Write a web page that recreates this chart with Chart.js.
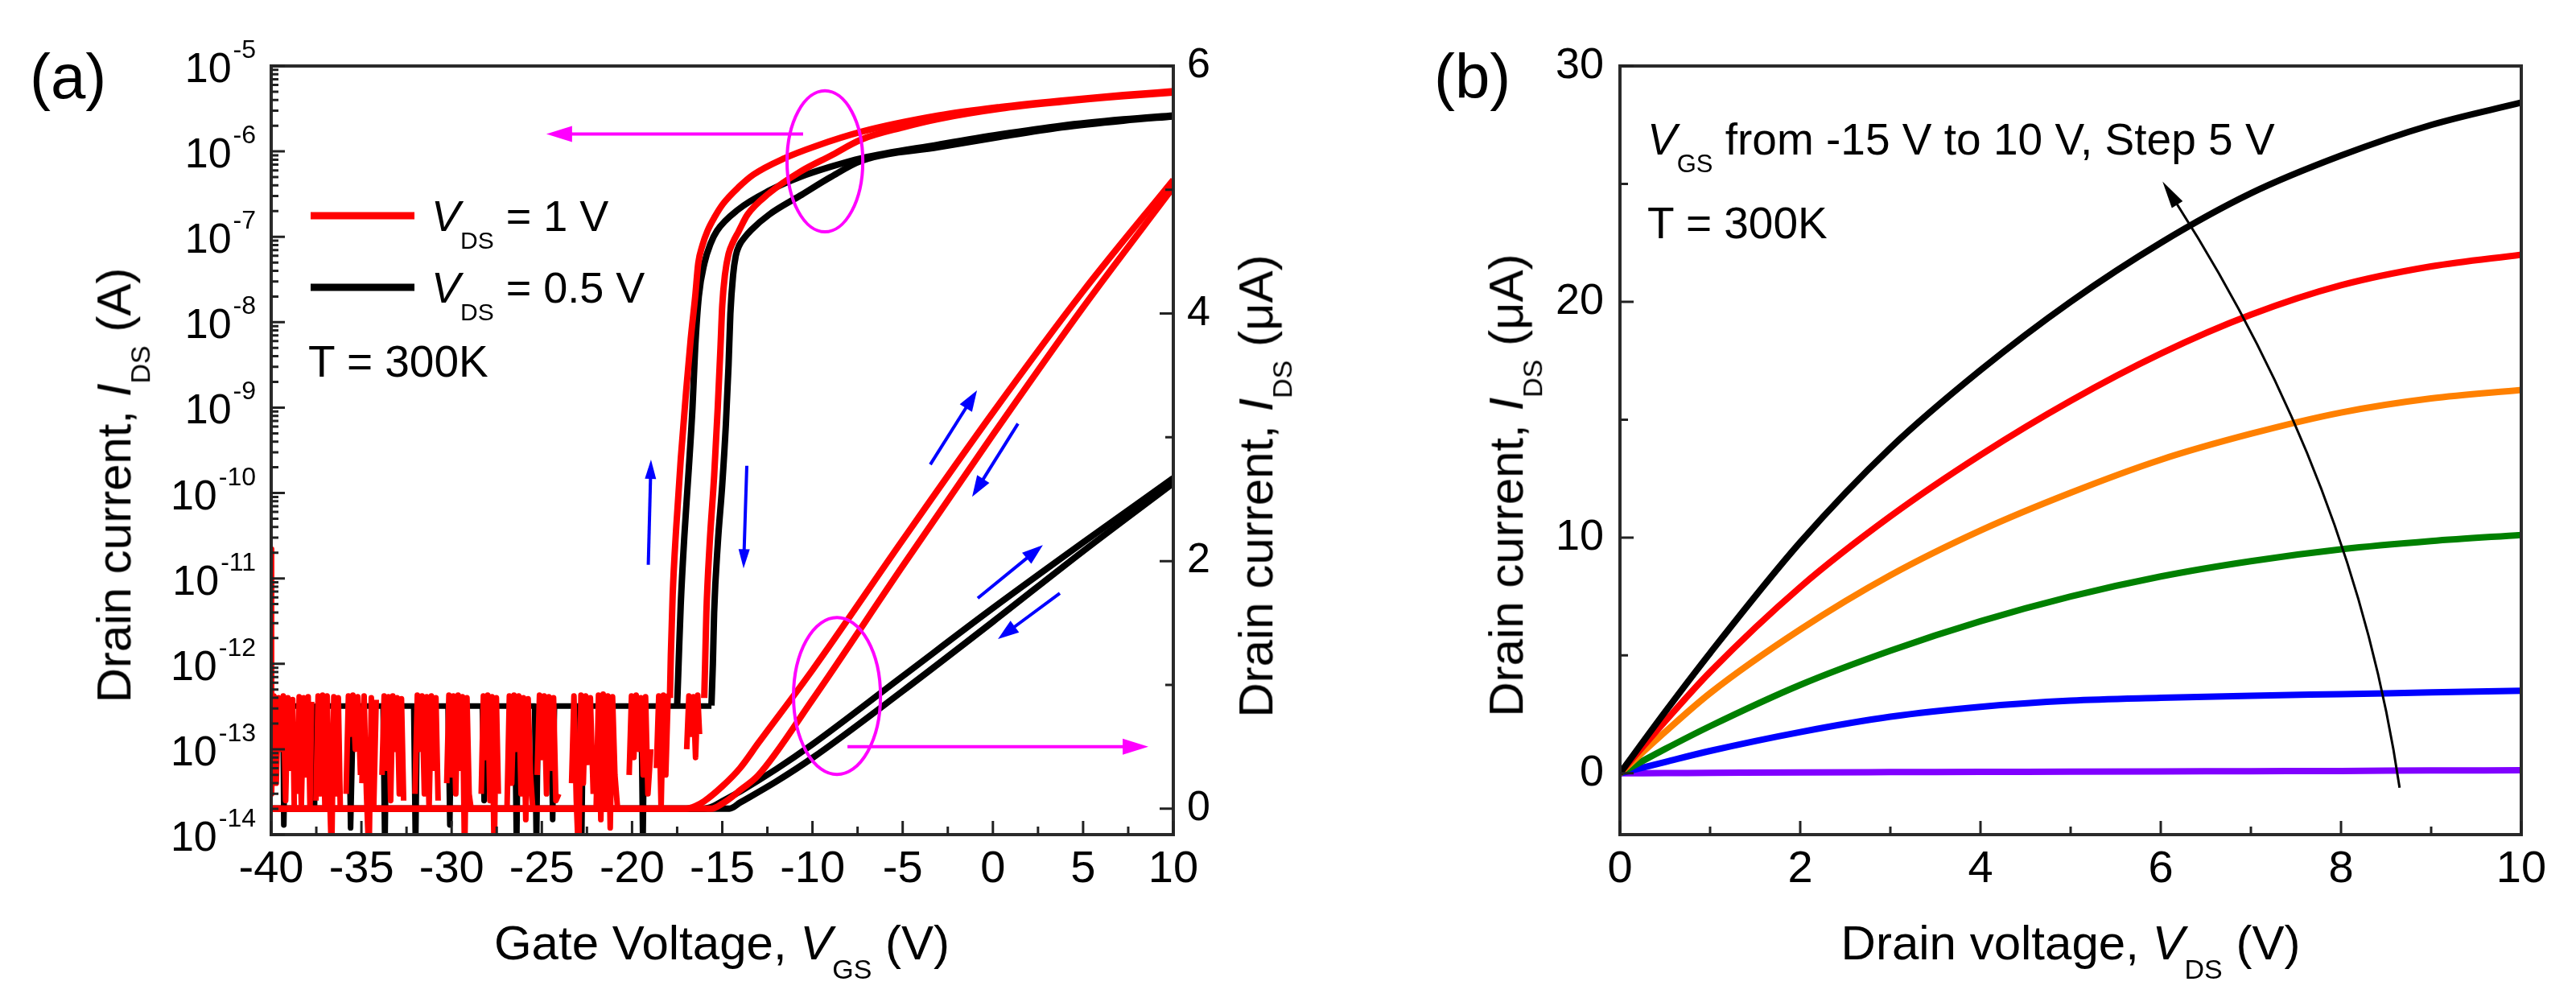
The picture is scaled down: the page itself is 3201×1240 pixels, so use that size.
<!DOCTYPE html>
<html><head><meta charset="utf-8">
<script src="https://cdn.jsdelivr.net/npm/chart.js@4.4.1/dist/chart.umd.min.js"></script>
<style>
html,body{margin:0;padding:0;background:#fff;}
body{width:3201px;height:1240px;position:relative;overflow:hidden;font-family:"Liberation Sans",Arial,sans-serif;color:#000;}
.cw{position:absolute;top:0;}
.t{position:absolute;white-space:nowrap;line-height:1;}
</style></head><body>
<div class="cw" style="left:0;width:1600px;height:1240px"><canvas id="ca" width="1600" height="1240"></canvas></div>
<div class="cw" style="left:1600px;width:1601px;height:1240px"><canvas id="cb" width="1601" height="1240"></canvas></div>
<script>
// ---------- Panel (a) data ----------
// noise floor (log axis), gate voltage in V, current in A (null = gap)
const vgsRedNoise = [
 -40.0,-39.98,-39.85,-39.72,-39.59,-39.46,-39.33,-39.2,-39.07,-38.94,-38.81,-38.72,-38.64,
 -38.56,-38.45,-38.33,-38.2,-38.08,-37.95,-37.85,-37.76,-37.64,
 -37.52,-37.4,-37.28,-37.15,-37.02,-36.9,-36.78,-36.65,-36.53,-36.4,-36.28,-36.17,-36.0,
 -35.85,-35.72,-35.6,-35.47,-35.34,-35.2,-35.05,-35.01,
 -34.97,-34.85,-34.72,-34.58,-34.45,-34.32,-34.18,-34.0,
 -33.86,-33.74,-33.62,-33.5,-33.38,-33.26,-33.14,-33.02,-32.9,-32.78,-32.66,-32.3,
 -32.03,-31.9,-31.77,-31.64,-31.51,-31.38,-31.25,-31.12,-30.99,-30.87,-30.75,-30.5,
 -30.27,-30.15,-30.02,-29.9,-29.77,-29.64,-29.52,-29.4,-29.28,-29.15,-29.03,-28.92,-28.6,
 -28.36,-28.24,-28.12,-28.0,-27.88,-27.76,-27.64,-27.52,-27.41,-27.2,
 -26.93,-26.8,-26.67,-26.54,-26.41,-26.28,-26.15,-26.02,-25.89,-25.76,-25.63,-25.5,-25.4,
 -25.26,-25.13,-25.0,-24.87,-24.74,-24.61,-24.48,-24.35,-24.22,-24.06,-23.7,
 -23.35,-23.22,-23.09,-22.96,-22.83,-22.7,-22.57,-22.44,-22.31,-22.15,-22.07,
 -21.99,-21.86,-21.73,-21.6,-21.47,-21.34,-21.21,-21.08,-20.95,-20.8,-20.5,
 -20.16,-20.03,-19.9,-19.77,-19.64,-19.51,-19.38,-19.25,-19.12,-18.96,-18.8,
 -18.65,-18.52,-18.39,-18.26,-18.13,-18.0,-17.9,-17.2,
 -16.97,-16.85,-16.72,-16.6,-16.48,-16.36,-16.26
];
const idsRedNoise = [
 2.2e-11,3e-14,4.2e-13,4e-14,4e-13,1e-13,4.2e-13,2.5e-14,4e-13,6e-14,3.8e-13,2e-14,null,
 3e-14,4.1e-13,2.2e-14,4e-13,5e-14,4.1e-13,2e-14,3.6e-13,null,
 2.5e-14,4.2e-13,3e-14,4.3e-13,2e-14,4.2e-13,4e-14,5e-15,4.1e-13,3e-14,4e-13,2e-14,null,
 3e-14,4.2e-13,1.5e-13,4.3e-13,1e-13,4.1e-13,5e-14,null,
 4e-14,4.2e-13,3e-14,5e-15,4e-13,2e-14,3.8e-13,null,
 5e-14,4.2e-13,6e-14,4.1e-13,2.5e-14,4.2e-13,1e-13,4e-13,3e-14,3.9e-13,2.5e-14,null,
 3e-14,4.3e-13,1e-13,4.2e-13,3e-14,4.1e-13,2e-14,4.2e-13,6e-14,4e-13,2.5e-14,null,
 4e-14,4.3e-13,5e-14,4.2e-13,3e-14,4.3e-13,6e-14,4.1e-13,5e-15,4e-13,3e-14,2e-14,null,
 3e-14,4.2e-13,8e-14,4.3e-13,2.5e-14,4.1e-13,5e-15,4e-13,3e-14,null,
 2e-14,4.2e-13,4e-14,4.3e-13,1e-13,4.2e-13,3e-14,4e-13,1.5e-14,3.9e-13,5e-14,2e-14,null,
 5e-14,4.3e-13,8e-14,4.2e-13,3e-14,4.1e-13,6e-14,4e-13,2.5e-14,3e-14,null,
 4e-14,4.2e-13,2.5e-14,5e-15,4.3e-13,4e-14,4.2e-13,7e-14,4e-13,3e-14,null,
 2e-14,4.3e-13,1.5e-14,4.4e-13,2e-14,4.2e-13,1.2e-14,4.1e-13,5e-14,2e-14,null,
 5e-14,4.2e-13,8e-14,4.3e-13,1e-13,4e-13,5e-14,4.1e-13,3e-14,1e-13,null,
 6e-14,4.2e-13,2e-14,4.3e-13,5e-14,4.2e-13,3.98e-13,null,
 1e-13,4.2e-13,1.5e-13,4.1e-13,8e-14,4.3e-13,1.5e-13
];
const vgsBlackNoise = [-40,-39.35,-39.3,-39.2,-37.7,-37.6,-37.5,-35.7,-35.6,-35.45,-33.8,-33.7,-33.6,-32.1,-32.0,-31.9,
 -30.2,-30.1,-30.0,-28.3,-28.2,-28.1,-26.5,-26.4,-26.3,-25.4,-25.3,-25.2,-24.5,-24.4,-24.3,-22.9,-22.8,-22.7,
 -19.5,-19.4,-19.3,-15.6];
const idsBlackNoise = [3.2e-13,3.2e-13,1.3e-14,3.2e-13,3.2e-13,2e-14,3.2e-13,3.2e-13,1.2e-14,3.2e-13,3.2e-13,5e-15,3.2e-13,3.2e-13,5e-15,3.2e-13,
 3.2e-13,1.3e-14,3.2e-13,3.2e-13,2.5e-14,3.2e-13,3.2e-13,5e-15,3.2e-13,3.2e-13,5e-15,3.2e-13,3.2e-13,1.5e-14,3.2e-13,3.2e-13,5e-15,3.2e-13,
 3.2e-13,5e-15,3.2e-13,3.2e-13];
// turn-on branches (log axis)
const vgsRedLeftLog = [-17.9,-17.85,-17.75,-17.55,-17.3,-17.0,-16.75,-16.5,-16.33,-16.1,-15.82,-15.4,-14.96,-14.1,-13.26,-11.55,-9.84,-7.28,-3.01,0.4,3.81,7.23,10];
const idsRedLeftLog = [3.98e-13,1.26e-12,6.31e-12,3.98e-11,2.51e-10,1.58e-9,6.31e-9,2.0e-8,4.9e-8,7.94e-8,1.17e-7,1.74e-7,2.43e-7,3.8e-7,5.37e-7,8.32e-7,1.15e-6,1.7e-6,2.63e-6,3.31e-6,3.94e-6,4.57e-6,5.07e-6];
const vgsRedRightLog = [-16.0,-15.95,-15.88,-15.7,-15.45,-15.25,-15.1,-15.0,-14.85,-14.65,-14.4,-14.1,-13.6,-12.4,-10.7,-8.99,-7.28,-5.0,-3.01,0.4,3.81,7.23,10];
const idsRedRightLog = [3.98e-13,1e-12,3.98e-12,2.51e-11,1.58e-10,1e-9,5.01e-9,1.58e-8,3.6e-8,6.3e-8,8.7e-8,1.15e-7,1.82e-7,3.24e-7,5.75e-7,8.91e-7,1.38e-6,1.91e-6,2.4e-6,3.16e-6,3.8e-6,4.42e-6,4.9e-6];
const vgsBlackLeftLog = [-17.5,-17.42,-17.3,-17.1,-16.85,-16.65,-16.5,-16.3,-15.99,-15.65,-15.3,-14.11,-12.4,-10.7,-8.99,-7.28,-3.01,0.4,3.81,7.23,10];
const idsBlackLeftLog = [3.24e-13,1e-12,5.01e-12,3.16e-11,2.0e-10,1e-9,5.01e-9,2.0e-8,4.9e-8,8.3e-8,1.17e-7,2.09e-7,3.47e-7,5.01e-7,6.61e-7,8.32e-7,1.2e-6,1.58e-6,2.0e-6,2.37e-6,2.64e-6];
const vgsBlackRightLog = [-15.6,-15.52,-15.45,-15.25,-15.0,-14.8,-14.65,-14.55,-14.4,-14.25,-14.05,-13.8,-13.4,-12.4,-10.7,-8.99,-7.28,-3.01,0.4,3.81,7.23,10];
const idsBlackRightLog = [3.24e-13,1e-12,3.98e-12,2.51e-11,1.26e-10,6.31e-10,3.16e-9,1.26e-8,3.55e-8,6.0e-8,8.0e-8,9.6e-8,1.2e-7,1.82e-7,3.02e-7,5.01e-7,7.76e-7,1.12e-6,1.48e-6,1.91e-6,2.29e-6,2.57e-6];
// linear branches (right axis, uA)
const vgsRedLeftLin = [-40,-17,-16.5,-16,-15,-14,-13,-10,-5,0,5,10];
const idsRedLeftLin = [0,0,0.02,0.06,0.18,0.33,0.53,1.12,2.17,3.2,4.18,5.08];
const vgsRedRightLin = [-40,-15.6,-15,-14.5,-14,-13,-10,-5,0,5,10];
const idsRedRightLin = [0,0,0.04,0.09,0.15,0.27,0.88,1.96,3.02,4.05,5.02];
const vgsBlackLeftLin = [-40,-16,-15.5,-15,-14,-12,-10,-5,0,5,10];
const idsBlackLeftLin = [0,0,0.02,0.06,0.14,0.32,0.52,1.07,1.62,2.15,2.67];
const vgsBlackRightLin = [-40,-14.6,-14,-12,-10,-5,0,5,10];
const idsBlackRightLin = [0,0,0.05,0.22,0.41,0.95,1.51,2.08,2.63];
const logTickExponents = [-14,-13,-12,-11,-10,-9,-8,-7,-6,-5];
// annotations in data units (x: VGS, y: right-axis uA)
const blueArrowsA = [[-19.1,1.97,-18.95,2.82],[-13.64,2.77,-13.82,1.94],[-3.47,2.78,-0.88,3.38],[1.39,3.11,-1.15,2.52],[-0.84,1.70,2.77,2.13],[3.71,1.74,0.28,1.37]];
const magentaArrowsA = [[-10.52,5.45,-24.75,5.45],[-8.06,0.50,8.62,0.50]];
const magentaEllipsesA = [[-9.31,5.23,2.1,0.57],[-8.64,0.91,2.41,0.634]];

// ---------- Panel (b) data ----------
const vds = [0,0.5,1,2,3,4,5,6,7,8,9,10];
const idVgsM15 = [0,0.01,0.02,0.04,0.05,0.06,0.07,0.08,0.09,0.10,0.12,0.13];
const idVgsM10 = [0,0.48,0.95,1.75,2.4,2.82,3.08,3.2,3.29,3.36,3.43,3.5];
const idVgsM5  = [0,1.03,2.0,3.75,5.2,6.45,7.5,8.35,9.0,9.5,9.85,10.11];
const idVgs0   = [0,1.75,3.4,6.1,8.4,10.3,11.9,13.3,14.4,15.3,15.9,16.26];
const idVgs5   = [0,2.2,4.3,7.9,10.9,13.5,15.8,17.8,19.45,20.7,21.5,22.0];
const idVgs10  = [0,2.6,5.1,9.8,13.8,17.1,20.0,22.5,24.6,26.2,27.5,28.45];
const arrowB = [[8.65,-0.61],[8.15,12.35],[6.02,25.1]];

// ---------- helpers ----------
const FONT='"Liberation Sans", Arial, Helvetica, sans-serif';
const pts=(xs,ys)=>xs.map((x,i)=>({x:x,y:ys[i]}));
function line(xs,ys,color,axis,order,w,smooth){
  return {data:pts(xs,ys),borderColor:color,backgroundColor:color,borderWidth:w,yAxisID:axis,order:order,
    pointRadius:0,pointHoverRadius:0,tension:0,cubicInterpolationMode:smooth?'monotone':'default',spanGaps:false,clip:0,fill:false,
    borderJoinStyle:'round'};
}
function tickMarks(ctx,scale,vals,len,side){
  const a=scale.chart.chartArea;
  ctx.save();ctx.strokeStyle='#222';ctx.lineWidth=3;ctx.beginPath();
  vals.forEach(v=>{const p=scale.getPixelForValue(v);
    if(side==='bottom'){ctx.moveTo(p,a.bottom);ctx.lineTo(p,a.bottom-len);}
    else if(side==='left'){ctx.moveTo(a.left,p);ctx.lineTo(a.left+len,p);}
    else {ctx.moveTo(a.right,p);ctx.lineTo(a.right-len,p);}});
  ctx.stroke();ctx.restore();
}
function majorsMinors(scale){
  const maj=scale.ticks.map(t=>t.value);const min=[];
  for(let i=0;i<maj.length-1;i++)min.push((maj[i]+maj[i+1])/2);
  return [maj,min];
}
function frame(chart){
  const a=chart.chartArea,ctx=chart.ctx;
  ctx.save();ctx.strokeStyle='#2a2a2a';ctx.lineWidth=4;ctx.strokeRect(a.left,a.top,a.right-a.left,a.bottom-a.top);ctx.restore();
}
function arrow(ctx,x1,y1,x2,y2,color,lw,hl,hw){
  const ang=Math.atan2(y2-y1,x2-x1),c=Math.cos(ang),s=Math.sin(ang);
  const bx=x2-hl*c,by=y2-hl*s;
  ctx.save();ctx.strokeStyle=color;ctx.fillStyle=color;ctx.lineWidth=lw;ctx.lineCap='butt';
  ctx.beginPath();ctx.moveTo(x1,y1);ctx.lineTo(bx+2*c,by+2*s);ctx.stroke();
  ctx.beginPath();ctx.moveTo(x2,y2);ctx.lineTo(bx+hw*s,by-hw*c);ctx.lineTo(bx-hw*s,by+hw*c);ctx.closePath();ctx.fill();
  ctx.restore();
}
const noGrid={display:false,drawTicks:false};
const noBorder={display:false};

// ---------- Chart (a) ----------
const pluginA={id:'decorA',
  afterDatasetsDraw(chart){
    const ctx=chart.ctx,sx=chart.scales.x,sy=chart.scales.y,s2=chart.scales.y2;
    magentaEllipsesA.forEach(e=>{
      const cx=sx.getPixelForValue(e[0]),cy=s2.getPixelForValue(e[1]);
      const rx=Math.abs(sx.getPixelForValue(e[0]+e[2])-cx),ry=Math.abs(s2.getPixelForValue(e[1]+e[3])-cy);
      ctx.save();ctx.strokeStyle='#ff00ff';ctx.lineWidth=4;ctx.beginPath();ctx.ellipse(cx,cy,rx,ry,0,0,Math.PI*2);ctx.stroke();ctx.restore();
    });
    magentaArrowsA.forEach(m=>arrow(ctx,sx.getPixelForValue(m[0]),s2.getPixelForValue(m[1]),sx.getPixelForValue(m[2]),s2.getPixelForValue(m[3]),'#ff00ff',4,32,10));
    blueArrowsA.forEach((b,i)=>arrow(ctx,sx.getPixelForValue(b[0]),s2.getPixelForValue(b[1]),sx.getPixelForValue(b[2]),s2.getPixelForValue(b[3]),'#0000ff',4,i<2?24:26,i<2?7:9));
    ctx.save();ctx.lineWidth=9;ctx.lineCap='butt';
    ctx.strokeStyle='#ff0000';ctx.beginPath();ctx.moveTo(386,268);ctx.lineTo(515,268);ctx.stroke();
    ctx.strokeStyle='#000000';ctx.beginPath();ctx.moveTo(386,357);ctx.lineTo(515,357);ctx.stroke();
    ctx.restore();
    frame(chart);
    let [mj,mn]=majorsMinors(sx);tickMarks(ctx,sx,mj,17,'bottom');tickMarks(ctx,sx,mn,10,'bottom');
    [mj,mn]=majorsMinors(s2);tickMarks(ctx,s2,mj,17,'right');tickMarks(ctx,s2,mn,10,'right');
    const lmaj=[],lmin=[];
    logTickExponents.forEach(n=>{lmaj.push(Math.pow(10,n));if(n<-5)for(let k=2;k<10;k++)lmin.push(k*Math.pow(10,n));});
    tickMarks(ctx,sy,lmaj,17,'left');tickMarks(ctx,sy,lmin,9,'left');
    ctx.save();ctx.fillStyle='#000';ctx.textBaseline='alphabetic';
    logTickExponents.forEach(n=>{
      const y=sy.getPixelForValue(Math.pow(10,n));
      ctx.font='32px '+FONT;const sup=String(n);const ws=ctx.measureText(sup).width;
      ctx.textAlign='left';ctx.fillText(sup,318-ws,y-10);
      ctx.font='52px '+FONT;ctx.textAlign='right';ctx.fillText('10',318-ws-2,y+20);
    });
    ctx.restore();
  }};
new Chart(document.getElementById('ca'),{
  type:'line',
  data:{datasets:[
    line(vgsRedLeftLin,idsRedLeftLin,'#ff0000','y2',1,8,true),
    line(vgsRedRightLin,idsRedRightLin,'#ff0000','y2',1,8,true),
    line(vgsRedLeftLog,idsRedLeftLog,'#ff0000','y',2,8,true),
    line(vgsRedRightLog,idsRedRightLog,'#ff0000','y',2,8,true),
    line(vgsRedNoise,idsRedNoise,'#ff0000','y',3,7,false),
    line(vgsBlackLeftLin,idsBlackLeftLin,'#000000','y2',4,8,true),
    line(vgsBlackRightLin,idsBlackRightLin,'#000000','y2',4,8,true),
    line(vgsBlackLeftLog,idsBlackLeftLog,'#000000','y',5,8,true),
    line(vgsBlackRightLog,idsBlackRightLog,'#000000','y',5,8,true),
    line(vgsBlackNoise,idsBlackNoise,'#000000','y',6,7,false)
  ]},
  options:{responsive:false,animation:false,devicePixelRatio:1,
    layout:{padding:{top:82,left:0,right:0,bottom:0}},
    plugins:{legend:{display:false},tooltip:{enabled:false}},
    scales:{
      x:{type:'linear',position:'bottom',min:-40,max:10,
        ticks:{stepSize:5,font:{family:FONT,size:56},color:'#000',padding:10,maxRotation:0,autoSkip:false},
        grid:noGrid,border:noBorder,afterFit(s){s.height=203;}},
      y:{type:'logarithmic',position:'left',min:1e-14,max:1e-5,ticks:{display:false},grid:noGrid,border:noBorder,afterFit(s){s.width=337;}},
      y2:{type:'linear',position:'right',min:-0.21,max:6,
        ticks:{stepSize:2,includeBounds:false,font:{family:FONT,size:52},color:'#000',padding:17},
        grid:noGrid,border:noBorder,afterFit(s){s.width=142;}}
    }},
  plugins:[pluginA]
});

// ---------- Chart (b) ----------
const pluginB={id:'decorB',
  afterDatasetsDraw(chart){
    const ctx=chart.ctx,sx=chart.scales.x,sy=chart.scales.y;
    frame(chart);
    let [mj,mn]=majorsMinors(sx);tickMarks(ctx,sx,mj,17,'bottom');tickMarks(ctx,sx,mn,10,'bottom');
    [mj,mn]=majorsMinors(sy);tickMarks(ctx,sy,mj,17,'left');tickMarks(ctx,sy,mn,10,'left');
    const p=arrowB.map(q=>[sx.getPixelForValue(q[0]),sy.getPixelForValue(q[1])]);
    ctx.save();ctx.strokeStyle='#000';ctx.fillStyle='#000';ctx.lineWidth=3;
    const ang=Math.atan2(p[2][1]-p[1][1],p[2][0]-p[1][0]),hl=34,hw=8,c=Math.cos(ang),s=Math.sin(ang);
    const bx=p[2][0]-hl*c,by=p[2][1]-hl*s;
    ctx.beginPath();ctx.moveTo(p[0][0],p[0][1]);ctx.quadraticCurveTo(p[1][0],p[1][1],bx+2*c,by+2*s);ctx.stroke();
    ctx.beginPath();ctx.moveTo(p[2][0],p[2][1]);ctx.lineTo(bx+hw*s,by-hw*c);ctx.lineTo(bx-hw*s,by+hw*c);ctx.closePath();ctx.fill();
    ctx.restore();
  }};
new Chart(document.getElementById('cb'),{
  type:'line',
  data:{datasets:[
    line(vds,idVgs10,'#000000','y',1,8,true),
    line(vds,idVgs5,'#ff0000','y',2,8,true),
    line(vds,idVgs0,'#ff8000','y',3,8,true),
    line(vds,idVgsM5,'#008000','y',4,8,true),
    line(vds,idVgsM10,'#0000ff','y',5,8,true),
    line(vds,idVgsM15,'#8000ff','y',6,8,true)
  ]},
  options:{responsive:false,animation:false,devicePixelRatio:1,
    layout:{padding:{top:82,left:0,right:68,bottom:0}},
    plugins:{legend:{display:false},tooltip:{enabled:false}},
    scales:{
      x:{type:'linear',position:'bottom',min:0,max:10,
        ticks:{stepSize:2,font:{family:FONT,size:56},color:'#000',padding:10,maxRotation:0,autoSkip:false},
        grid:noGrid,border:noBorder,afterFit(s){s.height=203;}},
      y:{type:'linear',position:'left',min:-2.6,max:30,
        ticks:{stepSize:10,includeBounds:false,font:{family:FONT,size:54},color:'#000',padding:20},
        grid:noGrid,border:noBorder,afterFit(s){s.width=413;}}
    }},
  plugins:[pluginB]
});

// ---------- text overlays ----------
function sub(t,fs){return '<span style="font-size:'+Math.round(fs*0.56)+'px;vertical-align:'+(-Math.round(fs*0.4))+'px">'+t+'</span>';}
function addText(html,x,y,fs,mode){
  const d=document.createElement('div');d.className='t';d.style.fontSize=fs+'px';d.innerHTML=html;
  d.style.left=x+'px';d.style.top=y+'px';
  if(mode==='center')d.style.transform='translate(-50%,-0.8465em)';
  else if(mode==='rot'){d.style.transformOrigin='0 0';d.style.transform='rotate(-90deg) translate(-50%,-0.8465em)';}
  else d.style.transform='translate(0,-0.8465em)';
  document.body.appendChild(d);
}
const TF=60;
addText('(a)',37,122,78,'left');
addText('(b)',1782,122,78,'left');
addText('<i>V</i>'+sub('DS',54)+' = 1 V',536,287,54,'left');
addText('<i>V</i>'+sub('DS',54)+' = 0.5 V',536,376,54,'left');
addText('T = 300K',383,469,55,'left');
addText('<i>V</i>'+sub('GS',55)+' from -15 V to 10 V, Step 5 V',2047,193,55,'left');
addText('T = 300K',2047,297,55,'left');
addText('Gate Voltage, <i>V</i>'+sub('GS',TF)+' (V)',897,1193,TF,'center');
addText('Drain voltage, <i>V</i>'+sub('DS',TF)+' (V)',2573,1193,TF,'center');
addText('Drain current, <i>I</i>'+sub('DS',TF)+' (A)',163,603,TF,'rot');
addText('Drain current, <i>I</i>'+sub('DS',TF)+' (μA)',1582,604,TF,'rot');
addText('Drain current, <i>I</i>'+sub('DS',TF)+' (μA)',1893,603,TF,'rot');
</script>
</body></html>
